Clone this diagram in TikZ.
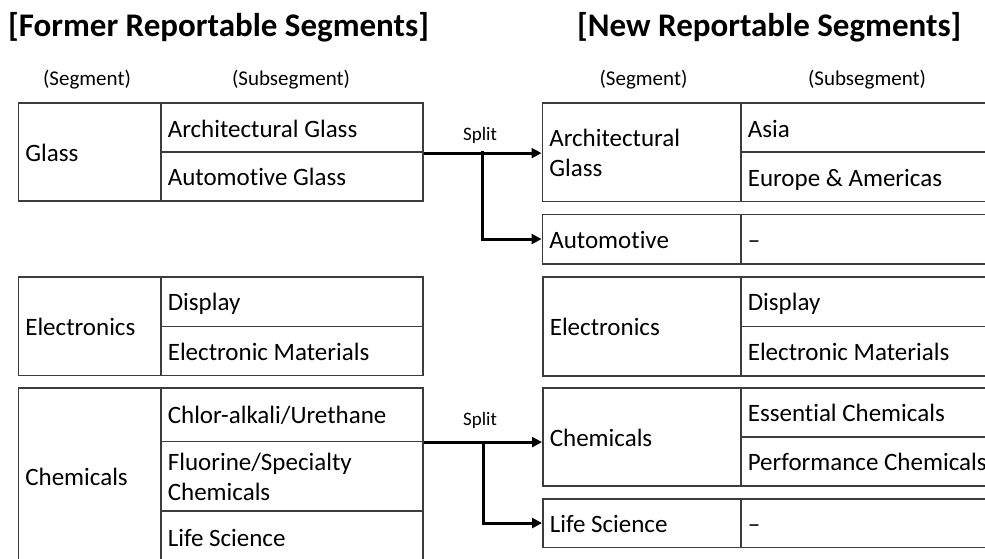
\documentclass[tikz,border=0pt]{standalone}
\usepackage{fontspec}
\setmainfont{Carlito}[Ligatures=NoCommon]
\usetikzlibrary{arrows.meta}
\definecolor{boxline}{RGB}{60,60,60}
\newcommand*{\CellFont}{\fontsize{25}{29.5}\selectfont}
\newcommand*{\CellStrut}{\rule[-5.5pt]{0pt}{29.5pt}}

\begin{document}
\begin{tikzpicture}[x=1pt, y=-1pt,
    cell/.style={draw=boxline, line width=1.6pt, anchor=north west, align=flush left,
        inner xsep=7pt, inner ysep=0pt, font=\CellFont,
        execute at begin node=\CellStrut, execute at end node=\CellStrut},
    segL/.style={cell, text width=128.5pt},
    subL/.style={cell, text width=248pt},
    segR/.style={cell, text width=184pt},
    subR/.style={cell, text width=286pt},
    title/.style={anchor=west, inner sep=0pt, font=\bfseries\fontsize{33}{40}\selectfont},
    header/.style={font=\fontsize{21}{25}\selectfont},
    splitlabel/.style={font=\fontsize{19}{22}\selectfont},
    splitarrow/.style={line width=3pt, -{Triangle[length=10pt,width=10pt]}}]
    \useasboundingbox (0,0) rectangle (985,559);
    \clip (0,0) rectangle (985,559);

    \node[title] (oldTitle) at (8,27) {[Former Reportable Segments]};
    \node[title] (newTitle) at (577,27) {[New Reportable Segments]};
    \node[header] (oldSeg) at (87,80) {(Segment)};
    \node[header] (oldSub) at (291,80) {(Subsegment)};
    \node[header] (newSeg) at (643.5,80) {(Segment)};
    \node[header] (newSub) at (867,80) {(Subsegment)};

    % former segments
    \node[segL, minimum height=97.5] (glass) at (17.5,102.5) {Glass};
    \node[subL, minimum height=49] (archGlass) at (160,102.5) {Architectural Glass};
    \node[subL, minimum height=48.5] (autoGlass) at (160,151.5) {Automotive Glass};
    \node[segL, minimum height=98.5] (elec) at (17.5,276) {Electronics};
    \node[subL, minimum height=49.5] (display) at (160,276) {Display};
    \node[subL, minimum height=49] (elecMat) at (160,325.5) {Electronic Materials};
    \node[segL, minimum height=176] (chem) at (17.5,387) {Chemicals};
    \node[subL, minimum height=53.5] (chlor) at (160,387) {Chlor-alkali/Urethane};
    \node[subL, minimum height=69.5] (fluor) at (160,440.5) {Fluorine/Specialty\\Chemicals};
    \node[subL, minimum height=53] (lifeSci) at (160,510) {Life Science};

    % new segments
    \node[segR, minimum height=98] (newArch) at (541.5,102.5) {Architectural\\Glass};
    \node[subR, minimum height=49] (asia) at (740,102.5) {Asia};
    \node[subR, minimum height=49] (euro) at (740,151.5) {Europe \& Americas};
    \node[segR, minimum height=49.5] (newAuto) at (541.5,213.5) {Automotive};
    \node[subR, minimum height=49.5] (autoSub) at (740,213.5) {--};
    \node[segR, minimum height=99] (newElec) at (542,276) {Electronics};
    \node[subR, minimum height=49.5] (newDisplay) at (740,276) {Display};
    \node[subR, minimum height=49.5] (newElecMat) at (740,325.5) {Electronic Materials};
    \node[segR, minimum height=98] (newChem) at (542,387) {Chemicals};
    \node[subR, minimum height=49] (essChem) at (740,387) {Essential Chemicals};
    \node[subR, minimum height=49] (perfChem) at (740,436) {Performance Chemicals};
    \node[segR, minimum height=48.5] (newLife) at (542,498) {Life Science};
    \node[subR, minimum height=48.5] (lifeSub) at (740,498) {--};

    % splits
    \node[splitlabel] (glassSplit) at (480,135) {Split};
    \node[splitlabel] (chemSplit) at (480,420.5) {Split};
    \coordinate (glassFork) at (482,151.5);
    \coordinate (chemFork) at (483,440.5);
    \draw[splitarrow] (archGlass.south east) -- (archGlass.south east -| newArch.west);
    \draw[splitarrow] (glassFork) |- (newAuto.west);
    \draw[splitarrow] (chlor.south east) -- (chlor.south east -| newChem.west);
    \draw[splitarrow] (chemFork) |- (newLife.west);
\end{tikzpicture}
\end{document}
